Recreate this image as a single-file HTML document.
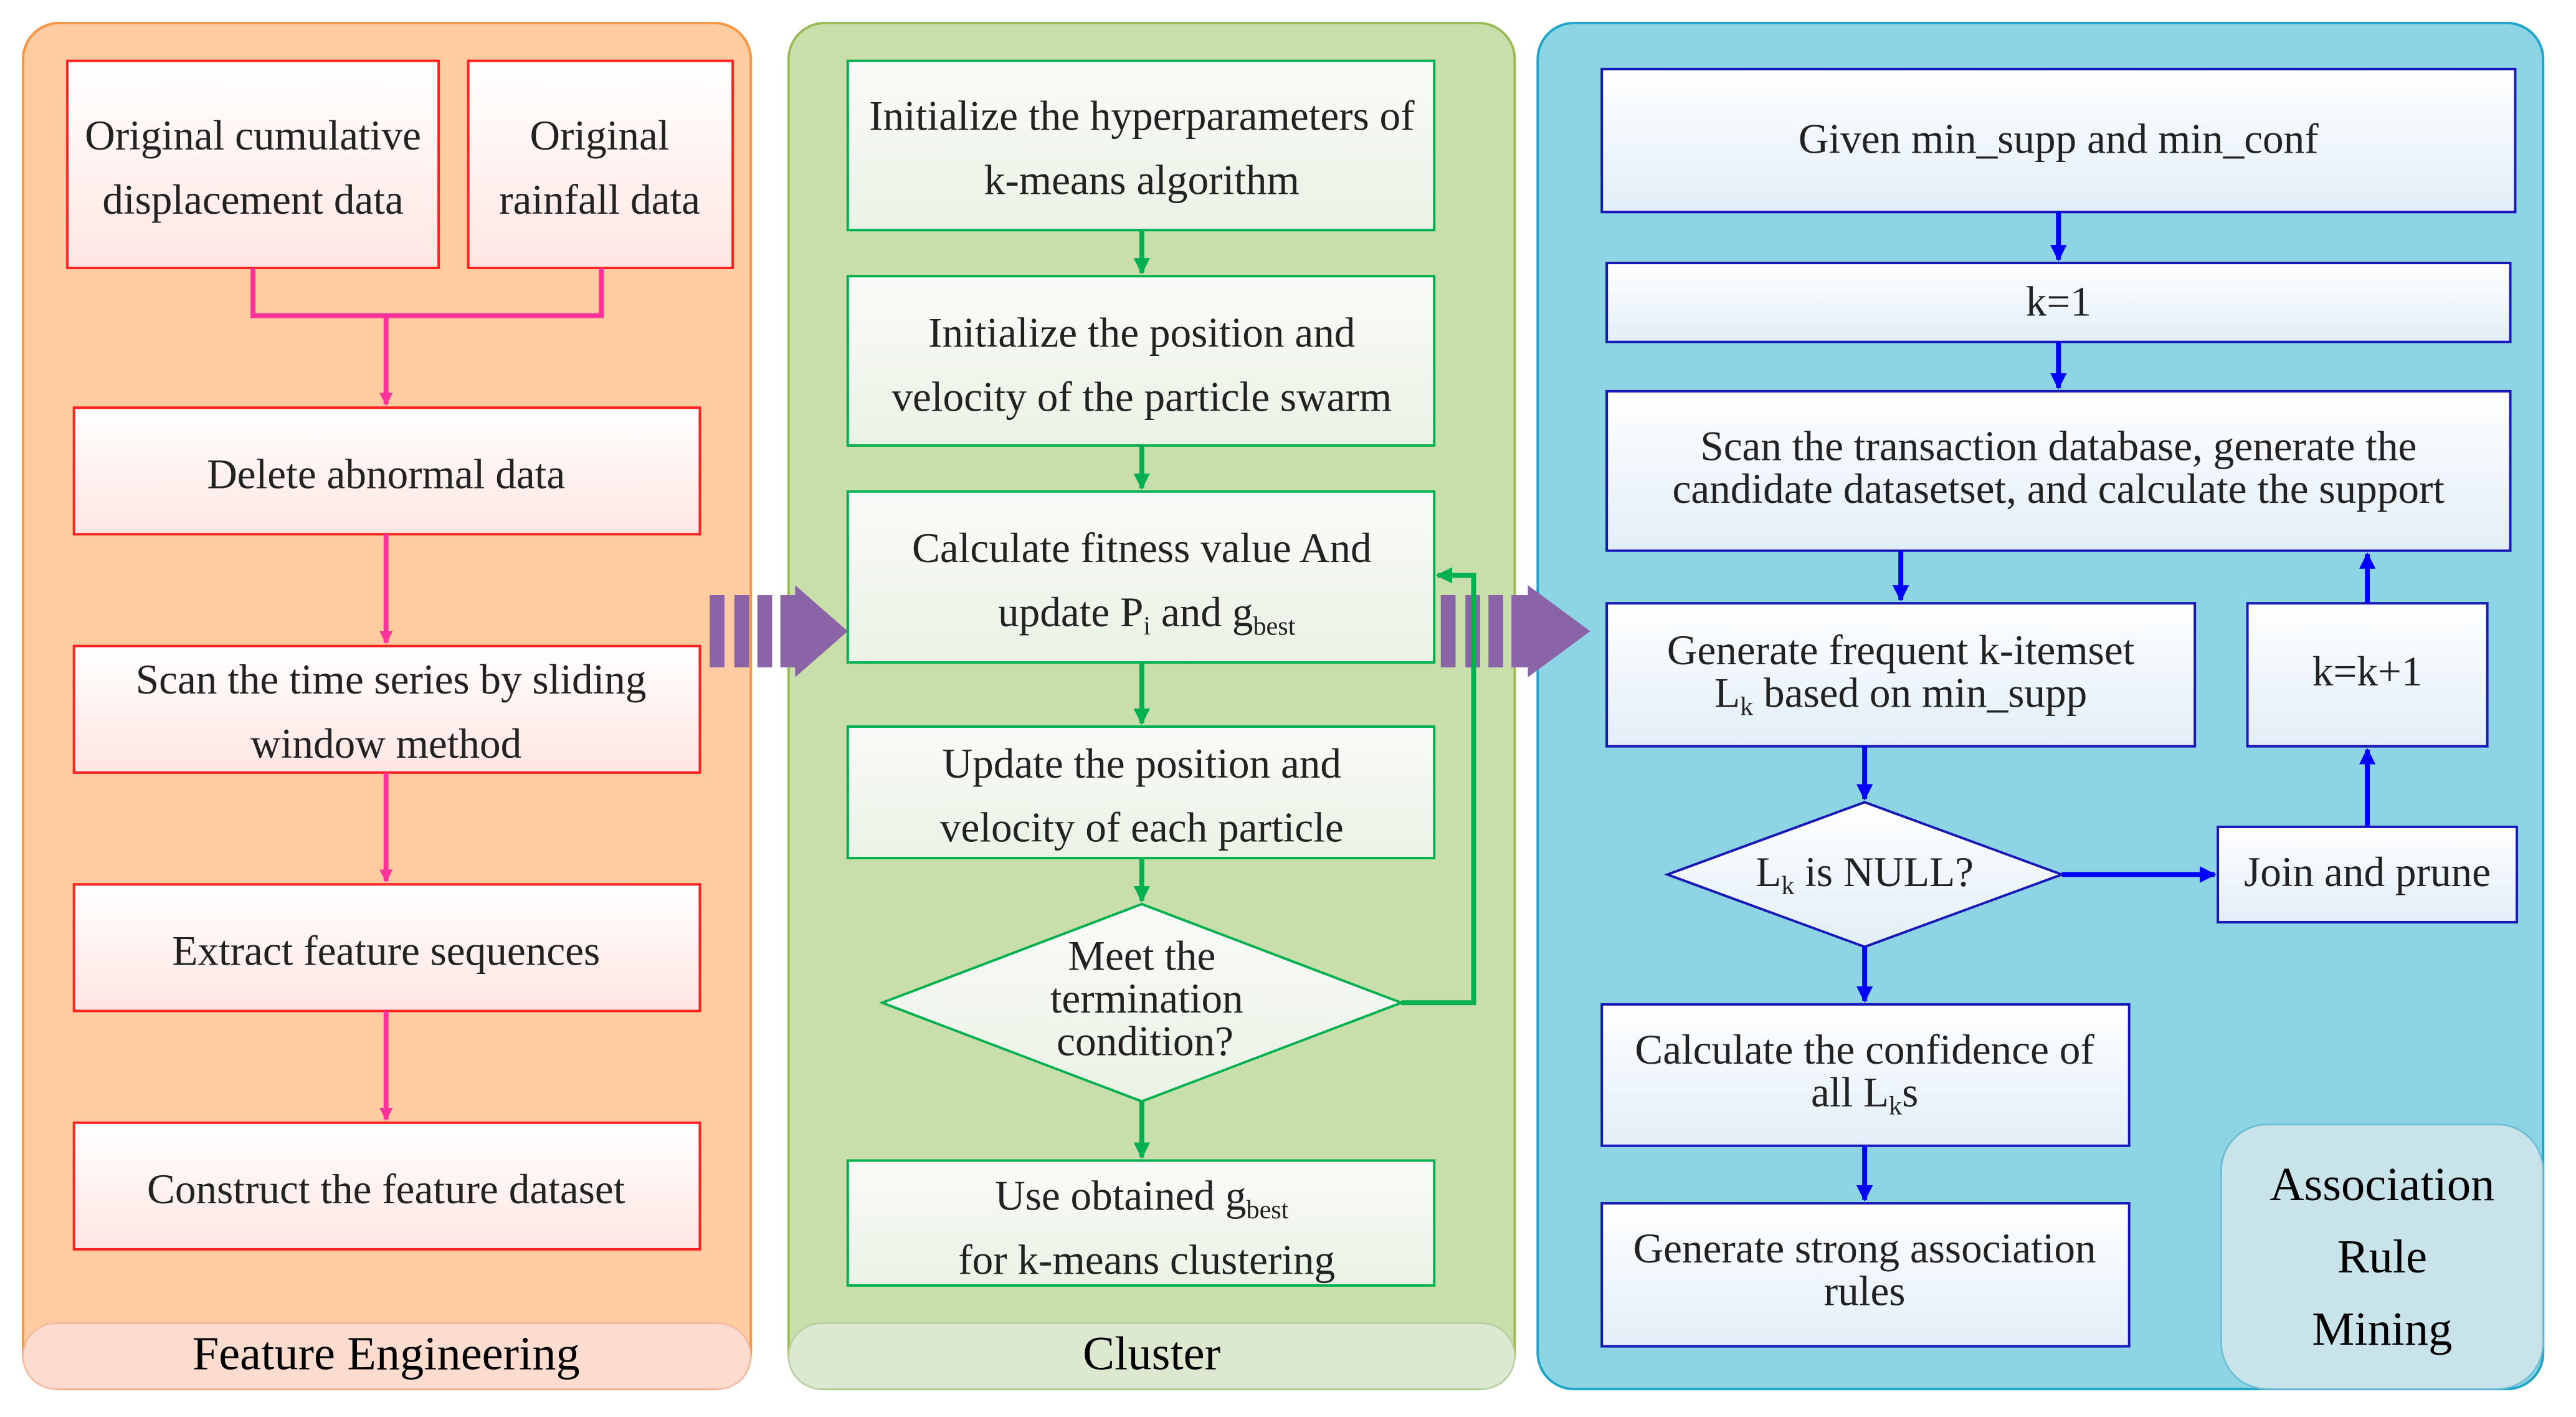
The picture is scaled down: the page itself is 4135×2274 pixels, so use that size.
<!DOCTYPE html>
<html><head><meta charset="utf-8"><style>html,body{margin:0;padding:0;background:#fff}svg{display:block}</style></head><body>
<svg width="4135" height="2274" viewBox="0 0 1568 862" preserveAspectRatio="none" xmlns="http://www.w3.org/2000/svg" font-family="'Liberation Serif', serif" font-size="25.5" fill="#222">
<defs>
<linearGradient id="gr" x1="0" y1="0" x2="0" y2="1"><stop offset="0" stop-color="#fff"/><stop offset="1" stop-color="#ffe6e3"/></linearGradient>
<linearGradient id="gg" x1="0" y1="0" x2="0" y2="1"><stop offset="0" stop-color="#fafbf8"/><stop offset="1" stop-color="#eaf2e5"/></linearGradient>
<linearGradient id="gb" x1="0" y1="0" x2="0" y2="1"><stop offset="0" stop-color="#fff"/><stop offset="1" stop-color="#e2eef8"/></linearGradient>
<marker id="ap" markerWidth="8" markerHeight="8" refX="7" refY="4" orient="auto" markerUnits="userSpaceOnUse"><path d="M0,0 L8,4 L0,8 z" fill="#ff3399"/></marker>
<marker id="ag" markerWidth="10" markerHeight="10" refX="9" refY="5" orient="auto" markerUnits="userSpaceOnUse"><path d="M0,0 L10,5 L0,10 z" fill="#00b050"/></marker>
<marker id="ab" markerWidth="10" markerHeight="10" refX="9" refY="5" orient="auto" markerUnits="userSpaceOnUse"><path d="M0,0 L10,5 L0,10 z" fill="#0000ff"/></marker>
</defs>
<rect x="14" y="14" width="443" height="831" rx="22" fill="#ffcba0" stroke="#f79646" stroke-width="1.5"/>
<rect x="14" y="805" width="443" height="40" rx="20" fill="#fddcd0" stroke="#f5b8a0"/>
<text x="235" y="833" text-anchor="middle" font-size="29" fill="#000">Feature Engineering</text>
<rect x="480" y="14" width="442" height="831" rx="22" fill="#c9dfab" stroke="#9bbb59" stroke-width="1.5"/>
<rect x="480" y="805" width="442" height="40" rx="20" fill="#dde8d0" stroke="#b8cfa0"/>
<text x="701" y="833" text-anchor="middle" font-size="29" fill="#000">Cluster</text>
<rect x="936" y="14" width="612" height="831" rx="22" fill="#8dd5e4" stroke="#1ea5c8" stroke-width="1.5"/>
<rect x="1352" y="684" width="196" height="161" rx="28" fill="#c9e3eb" stroke="#6bbcd4"/>
<text x="1450" y="730" text-anchor="middle" font-size="29" fill="#000">Association</text>
<text x="1450" y="774" text-anchor="middle" font-size="29" fill="#000">Rule</text>
<text x="1450" y="818" text-anchor="middle" font-size="29" fill="#000">Mining</text>

<g stroke="#ff2020" stroke-width="1.5" fill="url(#gr)">
<rect x="41" y="37" width="226" height="126"/>
<rect x="285" y="37" width="161" height="126"/>
<rect x="45" y="248" width="381" height="77"/>
<rect x="45" y="393" width="381" height="77"/>
<rect x="45" y="538" width="381" height="77"/>
<rect x="45" y="683" width="381" height="77"/>
</g>
<g text-anchor="middle">
<text x="154" y="91">Original cumulative</text><text x="154" y="130">displacement data</text>
<text x="365" y="91">Original</text><text x="365" y="130">rainfall data</text>
<text x="235" y="297">Delete abnormal data</text>
<text x="238" y="422">Scan the time series by sliding</text><text x="235" y="461">window method</text>
<text x="235" y="587">Extract feature sequences</text>
<text x="235" y="732">Construct the feature dataset</text>
</g>
<g stroke="#ff3399" stroke-width="3" fill="none">
<path d="M154,163 V192 H366 V163"/>
<path d="M235,192 V246" marker-end="url(#ap)"/>
<path d="M235,325 V391" marker-end="url(#ap)"/>
<path d="M235,470 V536" marker-end="url(#ap)"/>
<path d="M235,615 V681" marker-end="url(#ap)"/>
</g>

<g fill="#8a64a6">
<rect x="432" y="362" width="9" height="44"/><rect x="447" y="362" width="9" height="44"/><rect x="461" y="362" width="9" height="44"/>
<path d="M475,362 H484 V356 L516,384 L484,412 V406 H475 z"/>
<rect x="877" y="362" width="9" height="44"/><rect x="892" y="362" width="9" height="44"/><rect x="906" y="362" width="9" height="44"/>
<path d="M920,362 H930 V356 L968,384 L930,412 V406 H920 z"/>
</g>

<g stroke="#00b050" stroke-width="1.5" fill="url(#gg)">
<rect x="516" y="37" width="357" height="103"/>
<rect x="516" y="168" width="357" height="103"/>
<rect x="516" y="299" width="357" height="104"/>
<rect x="516" y="442" width="357" height="80"/>
<path d="M695,550 L853,610 L695,670 L537,610 z"/>
<rect x="516" y="706" width="357" height="76"/>
</g>
<g text-anchor="middle">
<text x="695" y="79">Initialize the hyperparameters of</text><text x="695" y="118">k-means algorithm</text>
<text x="695" y="211">Initialize the position and</text><text x="695" y="250">velocity of the particle swarm</text>
<text x="695" y="342">Calculate fitness value And</text>
<text x="698" y="381">update P<tspan font-size="16" dy="5">i</tspan><tspan dy="-5"> and g</tspan><tspan font-size="16" dy="5">best</tspan></text>
<text x="695" y="473">Update the position and</text><text x="695" y="512">velocity of each particle</text>
<text x="695" y="590">Meet the</text><text x="698" y="616">termination</text><text x="697" y="642">condition?</text>
<text x="695" y="736">Use obtained g<tspan font-size="16" dy="5">best</tspan></text>
<text x="698" y="775">for k-means clustering</text>
</g>
<g stroke="#00b050" stroke-width="3" fill="none">
<path d="M695,140 V166" marker-end="url(#ag)"/>
<path d="M695,271 V297" marker-end="url(#ag)"/>
<path d="M695,403 V440" marker-end="url(#ag)"/>
<path d="M695,522 V548" marker-end="url(#ag)"/>
<path d="M695,670 V704" marker-end="url(#ag)"/>
<path d="M853,610 H897 V350 H875" marker-end="url(#ag)"/>
</g>

<g stroke="#1818b8" stroke-width="1.5" fill="url(#gb)">
<rect x="975" y="42" width="556" height="87"/>
<rect x="978" y="160" width="550" height="48"/>
<rect x="978" y="238" width="550" height="97"/>
<rect x="978" y="367" width="358" height="87"/>
<rect x="1368" y="367" width="146" height="87"/>
<path d="M1135,488 L1255,532 L1135,576 L1015,532 z"/>
<rect x="1350" y="503" width="182" height="58"/>
<rect x="975" y="611" width="321" height="86"/>
<rect x="975" y="732" width="321" height="87"/>
</g>
<g text-anchor="middle">
<text x="1253" y="93">Given min_supp and min_conf</text>
<text x="1253" y="192">k=1</text>
<text x="1253" y="280">Scan the transaction database, generate the</text>
<text x="1253" y="306">candidate datasetset, and calculate the support</text>
<text x="1157" y="404">Generate frequent k-itemset</text>
<text x="1157" y="430">L<tspan font-size="16" dy="5">k</tspan><tspan dy="-5"> based on min_supp</tspan></text>
<text x="1441" y="417">k=k+1</text>
<text x="1135" y="539">L<tspan font-size="16" dy="5">k</tspan><tspan dy="-5"> is NULL?</tspan></text>
<text x="1441" y="539">Join and prune</text>
<text x="1135" y="647">Calculate the confidence of</text>
<text x="1135" y="673">all L<tspan font-size="16" dy="5">k</tspan><tspan dy="-5">s</tspan></text>
<text x="1135" y="768">Generate strong association</text>
<text x="1135" y="794">rules</text>
</g>
<g stroke="#0000ff" stroke-width="3" fill="none">
<path d="M1253,129 V158" marker-end="url(#ab)"/>
<path d="M1253,208 V236" marker-end="url(#ab)"/>
<path d="M1157,335 V365" marker-end="url(#ab)"/>
<path d="M1135,454 V486" marker-end="url(#ab)"/>
<path d="M1255,532 H1348" marker-end="url(#ab)"/>
<path d="M1441,503 V456" marker-end="url(#ab)"/>
<path d="M1441,367 V337" marker-end="url(#ab)"/>
<path d="M1135,576 V609" marker-end="url(#ab)"/>
<path d="M1135,697 V730" marker-end="url(#ab)"/>
</g>
</svg>
</body></html>
